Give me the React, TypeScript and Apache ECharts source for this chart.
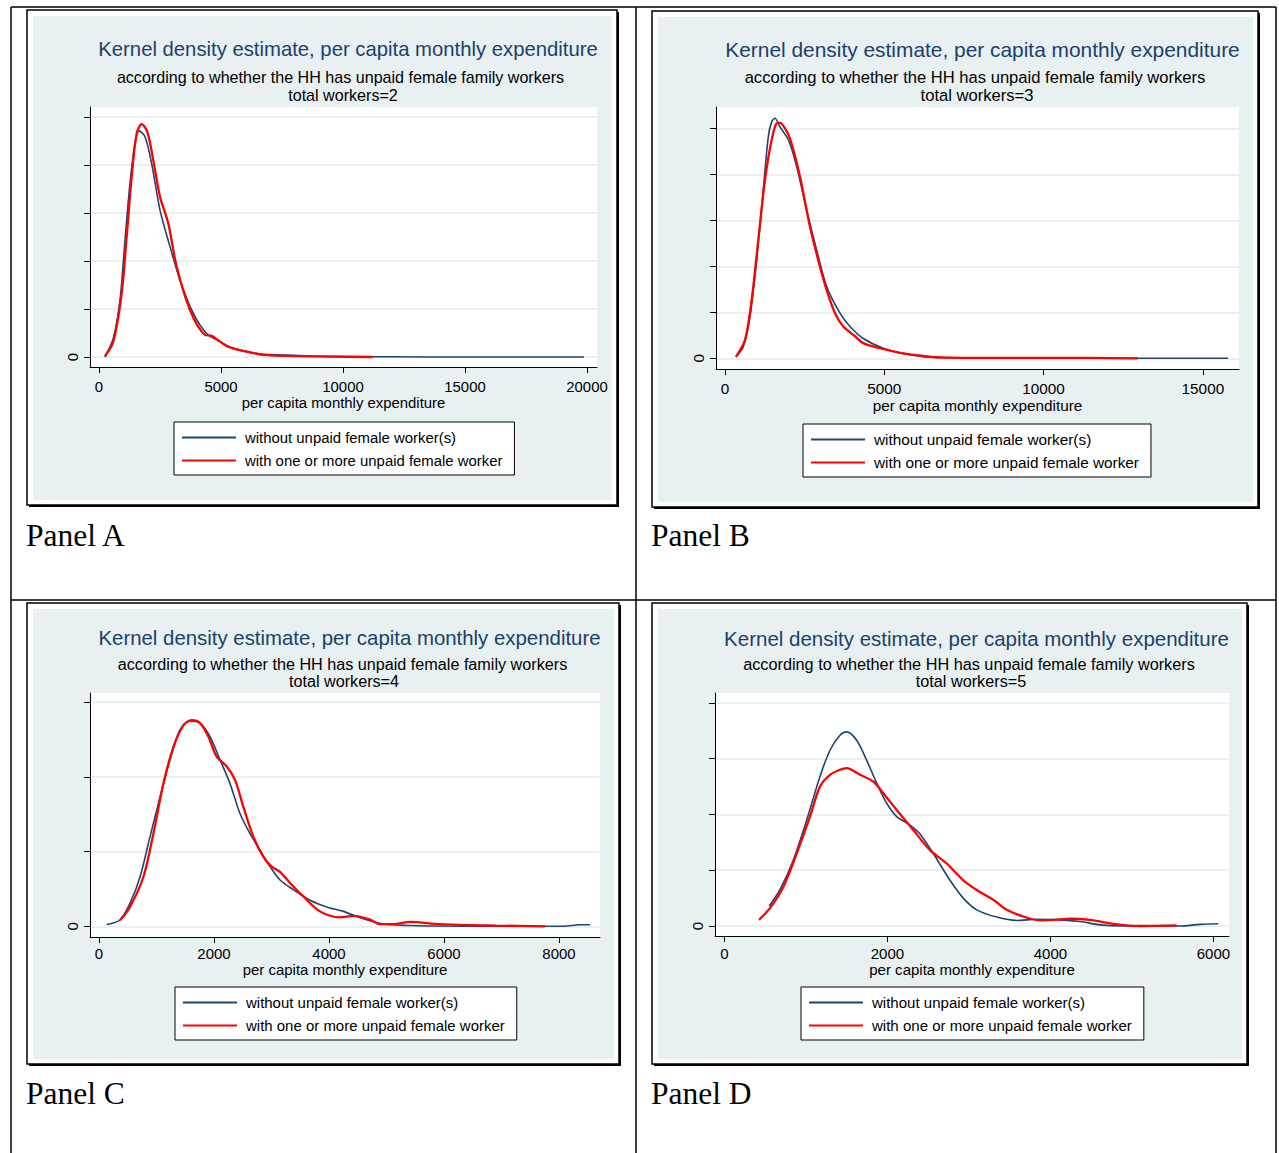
import React, { useEffect, useRef } from "react";
import * as echarts from "echarts";

// ---------- texts ----------
const SERIES_NAMES = ["without unpaid female worker(s)", "with one or more unpaid female worker"];
const TITLE = "Kernel density estimate, per capita monthly expenditure";
const SUBTITLE = "according to whether the HH has unpaid female family workers";
const X_NAME = "per capita monthly expenditure";
const PANEL_LABELS = ["Panel A", "Panel B", "Panel C", "Panel D"];
const TOTAL_WORKERS = [2, 3, 4, 5];

// ---------- ticks (x: expenditure, y: density x 10^-4) ----------
const X_TICKS_A = [0, 5000, 10000, 15000, 20000];
const X_TICKS_B = [0, 5000, 10000, 15000];
const X_TICKS_C = [0, 2000, 4000, 6000, 8000];
const X_TICKS_D = [0, 2000, 4000, 6000];
const Y_TICKS_A = [0, 1, 2, 3, 4, 5];
const Y_TICKS_B = [0, 1, 2, 3, 4, 5];
const Y_TICKS_C = [0, 2, 4, 6];
const Y_TICKS_D = [0, 1, 2, 3, 4];
const Y_LABELS = [0];

// ---------- data: [expenditure, density x 10^4] ----------
const A_WITHOUT = [[246, 0.0], [587, 0.39], [861, 1.19], [1066, 2.44], [1270, 3.62], [1475, 4.45], [1639, 4.71], [1885, 4.59], [2158, 4.03], [2500, 3.06], [2910, 2.3], [3320, 1.6], [3865, 0.91], [4413, 0.49], [4958, 0.32], [5505, 0.18], [6598, 0.06], [7008, 0.05], [8782, 0.02], [10000, 0.01], [12000, 0.004], [15000, 0.0], [19877, 0.0]];
const A_WITH = [[246, 0.02], [587, 0.32], [930, 1.33], [1135, 2.51], [1340, 3.76], [1545, 4.66], [1750, 4.85], [1980, 4.69], [2225, 4.1], [2500, 3.34], [2841, 2.78], [3184, 1.88], [3729, 0.98], [4344, 0.46], [4617, 0.44], [4958, 0.32], [5300, 0.21], [6051, 0.11], [6872, 0.04], [8100, 0.02], [9500, 0.01], [11215, 0.0]];
const B_WITHOUT = [[345, 0.03], [575, 0.25], [785, 0.9], [995, 2.14], [1202, 3.66], [1360, 4.82], [1466, 5.14], [1570, 5.22], [1726, 5.03], [1988, 4.75], [2250, 4.17], [2564, 3.22], [2878, 2.35], [3192, 1.56], [3610, 0.98], [3924, 0.69], [4341, 0.43], [4969, 0.22], [5703, 0.09], [6539, 0.02], [8000, 0.01], [10000, 0.01], [12000, 0.0], [15790, 0.0]];
const B_WITH = [[345, 0.03], [628, 0.4], [838, 1.27], [1045, 2.57], [1256, 3.88], [1466, 4.75], [1623, 5.11], [1726, 5.12], [1883, 5.0], [2040, 4.78], [2354, 3.95], [2668, 2.86], [2982, 1.99], [3192, 1.48], [3453, 0.98], [3714, 0.69], [4028, 0.51], [4341, 0.33], [4866, 0.22], [5493, 0.12], [6017, 0.07], [6742, 0.02], [8000, 0.01], [10000, 0.01], [12964, 0.0]];
const C_WITHOUT = [[133, 0.05], [365, 0.17], [539, 0.62], [713, 1.32], [887, 2.4], [1061, 3.46], [1235, 4.46], [1409, 5.26], [1583, 5.5], [1757, 5.44], [1930, 5.08], [2104, 4.46], [2278, 3.82], [2452, 3.02], [2626, 2.48], [2800, 2.04], [2974, 1.6], [3148, 1.24], [3380, 0.98], [3669, 0.7], [3960, 0.52], [4250, 0.4], [4597, 0.2], [4944, 0.06], [5400, 0.02], [5756, 0.01], [7000, 0.0], [8075, 0.0], [8365, 0.04], [8539, 0.04]];
const C_WITH = [[365, 0.16], [539, 0.52], [771, 1.32], [945, 2.48], [1119, 3.82], [1293, 4.8], [1467, 5.38], [1612, 5.52], [1757, 5.44], [1901, 5.08], [2047, 4.54], [2221, 4.28], [2365, 3.92], [2510, 3.2], [2684, 2.4], [2858, 1.86], [3003, 1.6], [3148, 1.46], [3322, 1.16], [3553, 0.8], [3843, 0.4], [4191, 0.24], [4423, 0.28], [4713, 0.18], [4887, 0.06], [5150, 0.06], [5409, 0.12], [5930, 0.06], [6916, 0.02], [7756, 0.0]];
const D_WITHOUT = [[551, 0.36], [682, 0.65], [845, 1.18], [1010, 1.9], [1173, 2.68], [1296, 3.15], [1418, 3.42], [1500, 3.48], [1623, 3.33], [1746, 2.97], [1869, 2.56], [1992, 2.2], [2114, 1.96], [2277, 1.81], [2400, 1.65], [2563, 1.3], [2768, 0.82], [2931, 0.5], [3096, 0.29], [3341, 0.16], [3587, 0.1], [3832, 0.12], [4118, 0.11], [4363, 0.08], [4609, 0.02], [4854, 0.0], [5590, 0.0], [5836, 0.03], [6060, 0.04]];
const D_WITH = [[425, 0.11], [559, 0.32], [723, 0.7], [887, 1.3], [1050, 1.96], [1173, 2.5], [1296, 2.71], [1418, 2.8], [1500, 2.83], [1664, 2.71], [1827, 2.59], [1950, 2.38], [2114, 2.08], [2318, 1.72], [2523, 1.36], [2728, 1.12], [2931, 0.82], [3136, 0.61], [3300, 0.47], [3464, 0.29], [3668, 0.17], [3873, 0.1], [4036, 0.11], [4241, 0.13], [4486, 0.11], [4772, 0.04], [5099, 0.0], [5550, 0.01]];

// ---------- styles / layout ----------
const FONT = "'Liberation Sans', Arial, Helvetica, sans-serif";
const SERIF = "'Liberation Serif', 'Times New Roman', serif";
const BLUE = "#1a476f";
const TITLE_COLOR = "#1c3f6b";
const RED = "#ff0000";
const BG = "#e8f0f2";
const GRIDLINE = "#e3ebee";

const PANELS = [
  { grid: { left: 90, top: 107, width: 507, height: 260 }, xMin: -369, xMax: 20410, yMin: -0.208, yMax: 5.208,
    xTicks: X_TICKS_A, yTicks: Y_TICKS_A, blue: A_WITHOUT, red: A_WITH,
    frame: [27, 10, 590, 495], bg: [33, 16, 579, 484], title: [348, 49], sub: [340.5, 77], total: [343, 95],
    legend: [174, 422], label: [26, 535], tickMargin: 12, nameGap: 28.5, s: 1 },
  { grid: { left: 716, top: 107, width: 523, height: 262 }, xMin: -282, xMax: 16134, yMin: -0.233, yMax: 5.463,
    xTicks: X_TICKS_B, yTicks: Y_TICKS_B, blue: B_WITHOUT, red: B_WITH,
    frame: [652, 11, 606, 496], bg: [658, 17, 595, 485], title: [982.5, 49], sub: [975, 77], total: [977, 95],
    legend: [803, 424], label: [651, 535], tickMargin: 12, nameGap: 28.5, s: 1.03 },
  { grid: { left: 90, top: 693, width: 510, height: 244 }, xMin: -157, xMax: 8713, yMin: -0.286, yMax: 6.246,
    xTicks: X_TICKS_C, yTicks: Y_TICKS_C, blue: C_WITHOUT, red: C_WITH,
    frame: [27, 603, 592, 461], bg: [33, 609, 581, 450], title: [349.5, 638], sub: [342.5, 664], total: [344, 681],
    legend: [175, 987], label: [26, 1093], tickMargin: 9, nameGap: 25, s: 1.005 },
  { grid: { left: 715, top: 693, width: 514, height: 243 }, xMin: -115, xMax: 6191, yMin: -0.179, yMax: 4.176,
    xTicks: X_TICKS_D, yTicks: Y_TICKS_D, blue: D_WITHOUT, red: D_WITH,
    frame: [652, 603, 595, 461], bg: [658, 609, 584, 450], title: [976.5, 638], sub: [969, 664], total: [971, 681],
    legend: [801, 987], label: [651, 1093], tickMargin: 10, nameGap: 26, s: 1.01 },
];

function buildOption() {
  const graphic: any[] = [];
  const grids: any[] = [];
  const xAxes: any[] = [];
  const yAxes: any[] = [];
  const series: any[] = [];
  const legends: any[] = [];

  // table lines
  const tableLines = [
    [11, 7, 1276, 7],
    [11, 600, 1276, 600],
    [11, 7, 11, 1153],
    [636, 7, 636, 1153],
    [1276, 7, 1276, 1153],
  ];
  tableLines.forEach(([x1, y1, x2, y2]) =>
    graphic.push({ type: "line", z: 1, shape: { x1, y1, x2, y2 }, style: { stroke: "#000", lineWidth: 1.5 } })
  );

  PANELS.forEach((p, i) => {
    const [fx, fy, fw, fh] = p.frame;
    const [bx, by, bw, bh] = p.bg;
    // frame shadow + frame + background
    graphic.push({ type: "rect", z: -4, shape: { x: fx + 2, y: fy + 2, width: fw, height: fh }, style: { fill: "#000" } });
    graphic.push({ type: "rect", z: -3, shape: { x: fx, y: fy, width: fw, height: fh }, style: { fill: "#fff", stroke: "#000", lineWidth: 1.5 } });
    graphic.push({ type: "rect", z: -2, shape: { x: bx, y: by, width: bw, height: bh }, style: { fill: BG } });
    // titles
    graphic.push({ type: "text", z: 10, x: p.title[0], y: p.title[1],
      style: { text: TITLE, fill: TITLE_COLOR, fontSize: 20.3 * p.s, fontFamily: FONT, align: "center", verticalAlign: "middle" } });
    graphic.push({ type: "text", z: 10, x: p.sub[0], y: p.sub[1],
      style: { text: SUBTITLE, fill: "#000", fontSize: 16.1 * p.s, fontFamily: FONT, align: "center", verticalAlign: "middle" } });
    graphic.push({ type: "text", z: 10, x: p.total[0], y: p.total[1],
      style: { text: "total workers=" + TOTAL_WORKERS[i], fill: "#000", fontSize: 16.1 * p.s, fontFamily: FONT, align: "center", verticalAlign: "middle" } });
    // panel label
    graphic.push({ type: "text", z: 10, x: p.label[0], y: p.label[1],
      style: { text: PANEL_LABELS[i], fill: "#000", fontSize: 31.5, fontFamily: SERIF, align: "left", verticalAlign: "middle" } });

    grids.push({ ...p.grid, show: true, backgroundColor: "#fff", borderWidth: 0, containLabel: false });

    xAxes.push({
      gridIndex: i, type: "value", min: p.xMin, max: p.xMax,
      name: X_NAME, nameLocation: "middle", nameGap: p.nameGap,
      nameTextStyle: { fontSize: 14.9 * p.s, color: "#000", fontFamily: FONT },
      axisLine: { show: true, onZero: false, lineStyle: { color: "#000", width: 1 } },
      axisTick: { show: true, customValues: p.xTicks, length: 6, lineStyle: { color: "#000", width: 1 } },
      axisLabel: { customValues: p.xTicks, margin: p.tickMargin, fontSize: 14.9 * p.s, color: "#000", fontFamily: FONT,
        formatter: (v: number) => String(v) },
      splitLine: { show: false },
    });
    yAxes.push({
      gridIndex: i, type: "value", min: p.yMin, max: p.yMax,
      axisLine: { show: true, onZero: false, lineStyle: { color: "#000", width: 1 } },
      axisTick: { show: true, customValues: p.yTicks, length: 6, lineStyle: { color: "#000", width: 1 } },
      axisLabel: { customValues: Y_LABELS, rotate: 90, margin: 10, fontSize: 14.9 * p.s, color: "#000", fontFamily: FONT,
        formatter: (v: number) => String(v) },
      splitLine: { show: true, lineStyle: { color: GRIDLINE, width: 1.5 } },
    });

    series.push({
      name: SERIES_NAMES[0], type: "line", xAxisIndex: i, yAxisIndex: i, data: p.blue,
      symbol: "none", smooth: 0.3, lineStyle: { color: BLUE, width: 1.6 }, itemStyle: { color: BLUE }, z: 3,
    });
    series.push({
      name: SERIES_NAMES[1], type: "line", xAxisIndex: i, yAxisIndex: i, data: p.red,
      symbol: "none", smooth: 0.3, lineStyle: { color: RED, width: 2.3 }, itemStyle: { color: RED }, z: 4,
    });

    legends.push({
      left: p.legend[0], top: p.legend[1], orient: "vertical", data: SERIES_NAMES,
      selectedMode: false, backgroundColor: "#fff", borderColor: "#000", borderWidth: 1, borderRadius: 0,
      padding: [8, 12, 7, 7], itemGap: 8, itemWidth: 54, itemHeight: 14,
      itemStyle: { opacity: 0 },
      textStyle: { fontSize: 14.9 * p.s, color: "#000", fontFamily: FONT, padding: [0, 0, 0, 4] },
    });
  });

  return {
    animation: false,
    backgroundColor: "#fff",
    graphic: { elements: graphic },
    grid: grids,
    xAxis: xAxes,
    yAxis: yAxes,
    legend: legends,
    series,
  };
}

export default function App() {
  const ref = useRef<HTMLDivElement>(null);
  useEffect(() => {
    if (!ref.current) return;
    const chart = echarts.init(ref.current, null, { renderer: "svg" });
    chart.setOption(buildOption() as any);
    return () => chart.dispose();
  }, []);
  return <div ref={ref} style={{ position: "absolute", left: 0, top: 0, width: 1279, height: 1153 }} />;
}
